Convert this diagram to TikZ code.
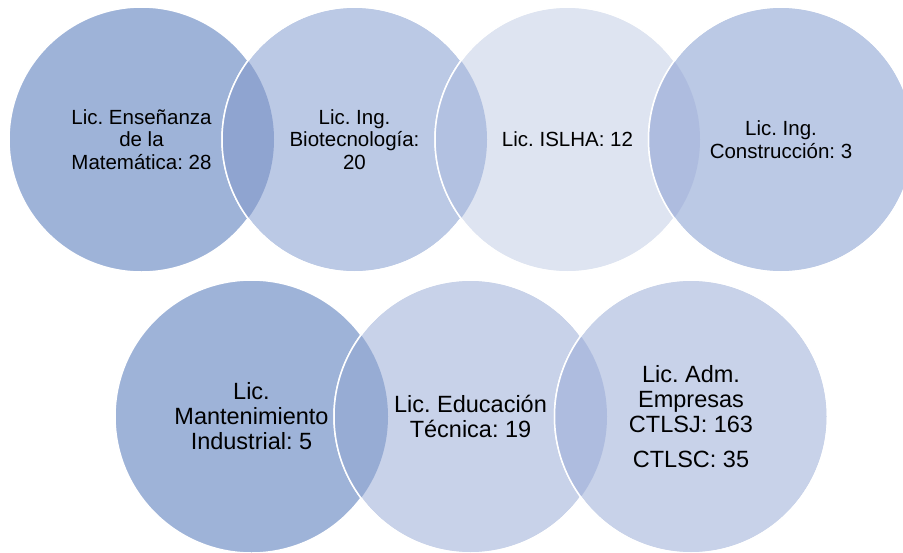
\documentclass[tikz,border=0pt]{standalone}
\usepackage{fontspec}
\setmainfont{Liberation Sans}
\definecolor{cA}{HTML}{9EB3D8}
\definecolor{cB}{HTML}{BBC9E5}
\definecolor{cC}{HTML}{DEE4F1}
\definecolor{cD}{HTML}{C8D2E9}
\definecolor{oAB}{HTML}{8FA4D0}
\definecolor{oBC}{HTML}{B2C1E1}
\definecolor{oCB}{HTML}{AEBCDF}
\definecolor{oAD}{HTML}{97ACD4}
\definecolor{oDD}{HTML}{AEBCDF}
\tikzset{
  topc/.style={circle, inner sep=0pt, minimum size=265pt, draw=white, line width=1.5pt},
  botc/.style={circle, inner sep=0pt, minimum size=273pt, draw=white, line width=1.5pt},
  toptxt/.style={align=center, font=\frenchspacing\fontsize{20.5}{22.5}\selectfont, text=black},
  bottxt/.style={align=center, font=\frenchspacing\fontsize{23.5}{25}\selectfont, text=black},
  ring/.style={draw=white, line width=1.5pt}
}
\begin{document}
\frenchspacing
\begin{tikzpicture}[x=1pt,y=-1pt]
\useasboundingbox (0,0) rectangle (903,552);
\clip (0,0) rectangle (903,552);
% top row
\node[topc, fill=cA] (c1) at (141.5,139.5) {};
\node[topc, fill=cB] (c2) at (354.5,139.5) {};
\begin{scope}\clip (c1.center) circle (132.5); \fill[oAB] (c2.center) circle (132.5);\end{scope}
\draw[ring] (c2.center) circle (132.5);
\node[topc, fill=cC] (c3) at (567.5,139.5) {};
\begin{scope}\clip (c2.center) circle (132.5); \fill[oBC] (c3.center) circle (132.5);\end{scope}
\draw[ring] (c3.center) circle (132.5);
\node[topc, fill=cB] (c4) at (781,139.5) {};
\begin{scope}\clip (c3.center) circle (132.5); \fill[oCB] (c4.center) circle (132.5);\end{scope}
\draw[ring] (c4.center) circle (132.5);
% bottom row
\node[botc, fill=cA] (c5) at (251.5,416.5) {};
\node[botc, fill=cD] (c6) at (470.5,416.5) {};
\begin{scope}\clip (c5.center) circle (136.5); \fill[oAD] (c6.center) circle (136.5);\end{scope}
\draw[ring] (c6.center) circle (136.5);
\node[botc, fill=cD] (c7) at (691,416.5) {};
\begin{scope}\clip (c6.center) circle (136.5); \fill[oDD] (c7.center) circle (136.5);\end{scope}
\draw[ring] (c7.center) circle (136.5);
% texts
\node[toptxt] (t1) at (c1.center) {Lic. Enseñanza\\de la\\Matemática: 28};
\node[toptxt] (t2) at (c2.center) {Lic. Ing.\\Biotecnología:\\20};
\node[toptxt] (t3) at (c3.center) {Lic. ISLHA: 12};
\node[toptxt] (t4) at (c4.center) {Lic. Ing.\\Construcción: 3};
\node[bottxt] (t5) at (c5.center) {Lic.\\Mantenimiento\\Industrial: 5};
\node[bottxt] (t6) at (c6.center) {Lic. Educación\\Técnica: 19};
\node[bottxt] (t7) at (c7.center) {Lic. Adm.\\Empresas\\CTLSJ: 163\\[10pt]CTLSC: 35};
\end{tikzpicture}
\end{document}
